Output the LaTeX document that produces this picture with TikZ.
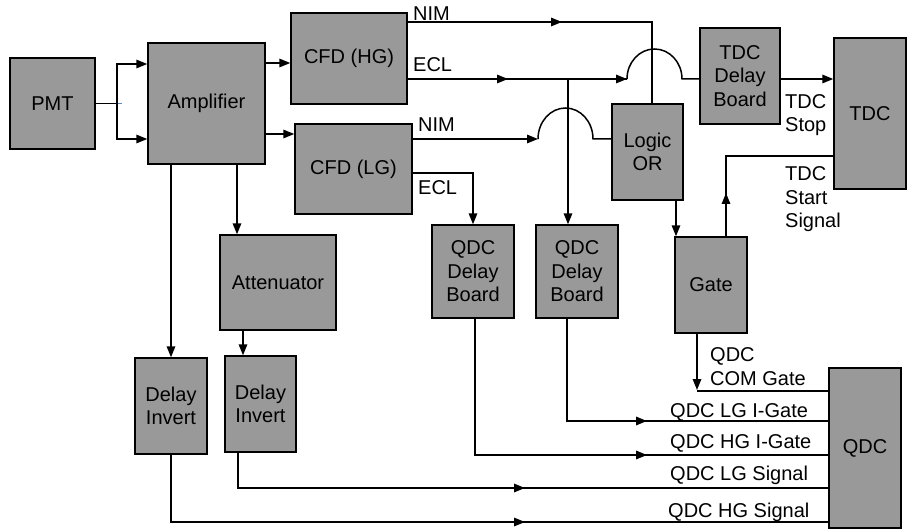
\documentclass[tikz,border=0pt]{standalone}
\usepackage{fontspec}
\setmainfont{Liberation Sans}
\usetikzlibrary{arrows.meta}
\definecolor{boxgray}{HTML}{999999}
\definecolor{stubblue}{HTML}{5B8BC5}
\begin{document}
\begin{tikzpicture}[x=1pt,y=-1pt,
  blk/.style={draw, fill=boxgray, line width=1.4pt, inner sep=0pt, align=center,
    font=\fontsize{20}{23.5}\selectfont},
  ln/.style={line width=1.5pt},
  arr/.style={line width=1.5pt, -{Triangle[length=11pt,width=8.5pt]}},
  lbl/.style={inner sep=0pt, anchor=base west, align=left,
    font=\fontsize{20}{23.5}\selectfont}]
\useasboundingbox (0,0) rectangle (910,529);

% boxes
\node[blk, minimum width=85pt, minimum height=91pt] (pmt) at (52.5,103.5) {PMT};
\node[blk, minimum width=117pt, minimum height=121pt] (amp) at (206.5,103.5) {Amplifier};
\node[blk, minimum width=116pt, minimum height=91pt] (cfdhg) at (349,58.5) {CFD (HG)};
\node[blk, minimum width=117pt, minimum height=90pt] (cfdlg) at (353.5,169) {CFD (LG)};
\node[blk, minimum width=116pt, minimum height=95pt] (atten) at (278,282.5) {Attenuator};
\node[blk, minimum width=72pt, minimum height=96pt] (di1) at (171,406) {Delay\\Invert};
\node[blk, minimum width=71pt, minimum height=96pt] (di2) at (260.5,404) {Delay\\Invert};
\node[blk, minimum width=82pt, minimum height=93pt] (qdb1) at (473,271.5) {QDC\\Delay\\Board};
\node[blk, minimum width=82pt, minimum height=93pt] (qdb2) at (577,271.5) {QDC\\Delay\\Board};
\node[blk, minimum width=71pt, minimum height=96pt] (logic) at (647.5,152) {Logic\\OR};
\node[blk, minimum width=72pt, minimum height=96pt] (gate) at (711,285) {Gate};
\node[blk, minimum width=80pt, minimum height=96pt] (tdcd) at (740,76) {TDC\\Delay\\Board};
\node[blk, minimum width=72pt, minimum height=151pt] (tdc) at (870,113.5) {TDC};
\node[blk, minimum width=72pt, minimum height=160pt] (qdc) at (865,448) {QDC};

% PMT -> Amplifier
\coordinate (pj) at (117,103.5);
\draw[ln] (pmt.east) -- (pj);
\draw[ln, stubblue, line width=1.2pt] (pj) -- ++(5,0);
\draw[arr] (pj) |- ([yshift=39.5pt]amp.west);
\draw[arr] (pj) |- ([yshift=-35.5pt]amp.west);

% Amplifier -> CFDs
\coordinate (hgin) at ([yshift=-4.5pt]cfdhg.west);
\coordinate (lgin) at ([yshift=35pt]cfdlg.west);
\draw[arr] (amp.east |- hgin) -- (hgin);
\draw[arr] (amp.east |- lgin) -- (lgin);

% Amplifier -> Delay Invert / Attenuator
\draw[arr] (di1.north |- amp.south) -- (di1.north);
\coordinate (atin) at ([xshift=-41pt]atten.north);
\draw[arr] (atin |- amp.south) -- (atin);
\coordinate (di2in) at ([xshift=-17.5pt]di2.north);
\draw[arr] (di2in |- atten.south) -- (di2in);

% Delay Inverts -> QDC
\coordinate (qhgs) at ([yshift=-74pt]qdc.west);
\coordinate (qlgs) at ([yshift=-40pt]qdc.west);
\coordinate (tip1) at (525,522);
\coordinate (tip2) at (525,488);
\draw[ln] (di1.south) |- (qhgs);
\draw[arr] (di1.south |- qhgs) -- (tip1);
\coordinate (di2out) at ([xshift=-22.5pt]di2.south);
\draw[ln] (di2out) |- (qlgs);
\draw[arr] (di2out |- qlgs) -- (tip2);

% QDC Delay Boards -> QDC
\coordinate (qhgi) at ([yshift=-7pt]qdc.west);
\coordinate (qlgi) at ([yshift=27pt]qdc.west);
\coordinate (tip3) at (647,455);
\coordinate (tip4) at (647,421);
\coordinate (q1out) at ([xshift=2pt]qdb1.south);
\draw[ln] (q1out) |- (qhgi);
\draw[arr] (q1out |- qhgi) -- (tip3);
\coordinate (q2out) at ([xshift=-10pt]qdb2.south);
\draw[ln] (q2out) |- (qlgi);
\draw[arr] (q2out |- qlgi) -- (tip4);

% Gate -> QDC COM gate
\coordinate (qcom) at ([yshift=57pt]qdc.west);
\coordinate (gout) at ([xshift=-14pt]gate.south);
\draw[ln] (qcom) -- (gout |- qcom);
\draw[arr] (gout) -- ([yshift=1pt]gout |- qcom);

% Logic OR -> Gate
\coordinate (gin) at ([xshift=-35pt]gate.north);
\draw[arr] (gin |- logic.south) -- (gin);

% Gate -> TDC start
\coordinate (gst) at ([xshift=15pt]gate.north);
\coordinate (tst) at ([yshift=-42.5pt]tdc.west);
\coordinate (tip5) at (726,193);
\draw[ln] (gst) |- (tst);
\draw[arr] (gst) -- (tip5);

% TDC Delay Board -> TDC
\coordinate (tde) at ([yshift=-3pt]tdcd.east);
\draw[arr] (tde) -- (tde -| tdc.west);

% CFD (HG) NIM -> Logic OR
\coordinate (hnim) at ([yshift=36.5pt]cfdhg.east);
\coordinate (lin1) at ([xshift=4.5pt]logic.north);
\coordinate (tip6) at (562,22);
\draw[ln] (hnim) -| (lin1);
\draw[arr] (hnim) -- (tip6);

% CFD (HG) ECL -> TDC Delay Board (with hop) and branch to QDC Delay Board
\coordinate (hecl) at ([yshift=-20.5pt]cfdhg.east);
\coordinate (tip7) at (508,79);
\coordinate (hop1) at (627,79);
\draw[ln] (hecl) -- (hop1);
\draw[arr] (hecl) -- (tip7);
\draw[arr] (tip7) -- (hop1);
\draw[ln] (hop1) arc[start angle=180, end angle=0, x radius=27.5pt, y radius=30pt]
  coordinate (hop1e) -- (hop1e -| tdcd.west);
\coordinate (q2in) at ([xshift=-9pt]qdb2.north);
\draw[arr] (q2in |- hecl) -- (q2in);

% CFD (LG) NIM -> Logic OR (with hop)
\coordinate (lnim) at ([yshift=30pt]cfdlg.east);
\coordinate (hop2) at (538,139);
\draw[arr] (lnim) -- (hop2);
\draw[ln] (hop2) arc[start angle=180, end angle=0, x radius=27.5pt, y radius=31pt]
  coordinate (hop2e) -- (hop2e -| logic.west);

% CFD (LG) ECL -> QDC Delay Board 1
\draw[arr] ([yshift=-4pt]cfdlg.east) -| (qdb1.north);

% labels (base = baseline of last line)
\node[lbl] (l1) at (413,21) {NIM};
\node[lbl] (l2) at (413,72) {ECL};
\node[lbl] (l3) at (418,132) {NIM};
\node[lbl] (l4) at (418,195) {ECL};
\node[lbl] (l5) at (785,132) {TDC\\Stop};
\node[lbl] (l6) at (785,228) {TDC\\Start\\Signal};
\node[lbl] (l7) at (710,385) {QDC\\COM Gate};
\node[lbl] (l8) at (670,417) {QDC LG I-Gate};
\node[lbl] (l9) at (670,448) {QDC HG I-Gate};
\node[lbl] (l10) at (670,480) {QDC LG Signal};
\node[lbl] (l11) at (668,517) {QDC HG Signal};
\end{tikzpicture}
\end{document}
